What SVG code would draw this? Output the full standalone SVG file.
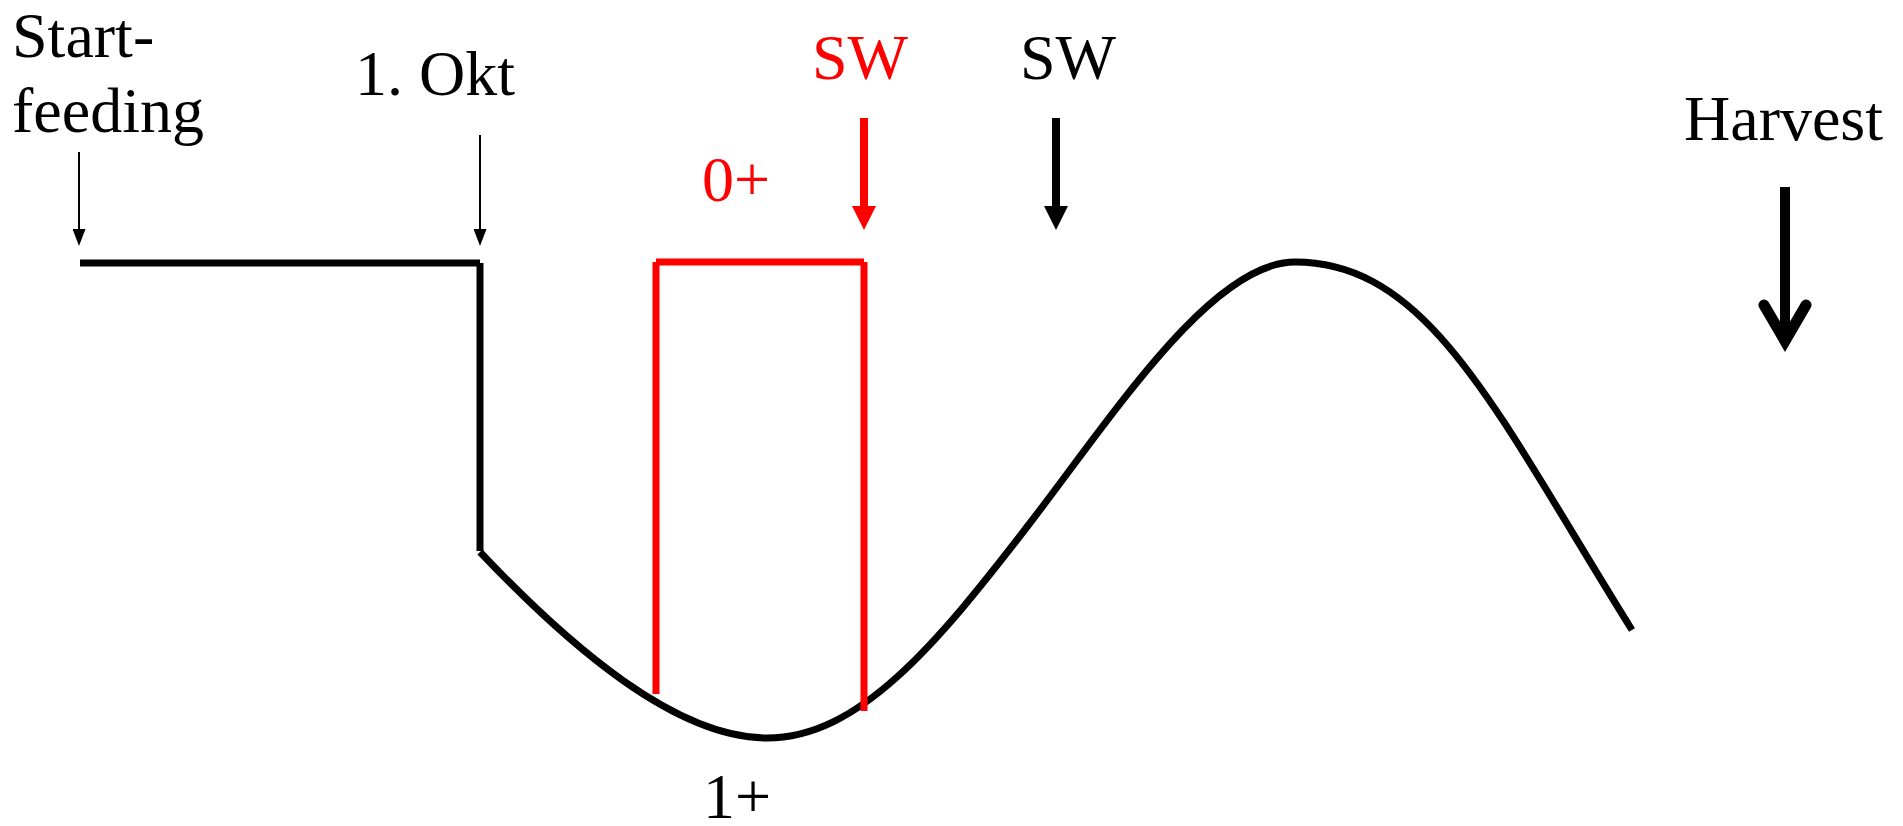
<svg xmlns="http://www.w3.org/2000/svg" width="1903" height="826" viewBox="0 0 1903 826">
<style>
  .t { font-family: 'Liberation Serif', 'Times New Roman', Times, serif; font-size: 64px; fill: #000; }
  .red { fill: #ff0000; }
  .thin { stroke: #000; stroke-width: 2; fill: none; }
  .sw { stroke-width: 8; fill: none; }
  .blk { stroke: #000; }
  .rd { stroke: #ff0000; }
  .line { stroke-width: 7; fill: none; stroke-linecap: butt; }
  .curve { stroke: #000; stroke-width: 7; fill: none; stroke-linecap: butt; }
</style>
<defs>
  <marker id="headThin" markerUnits="userSpaceOnUse" markerWidth="17" markerHeight="13" viewBox="0 0 17 13" refX="1" refY="6.5" orient="auto">
    <path d="M0,0 L17,6.5 L0,13 z" fill="#000"/>
  </marker>
  <marker id="headBlack" markerUnits="userSpaceOnUse" markerWidth="24" markerHeight="24" viewBox="0 0 24 24" refX="1" refY="12" orient="auto">
    <path d="M0,0 L24,12 L0,24 z" fill="#000"/>
  </marker>
  <marker id="headRed" markerUnits="userSpaceOnUse" markerWidth="24" markerHeight="24" viewBox="0 0 24 24" refX="1" refY="12" orient="auto">
    <path d="M0,0 L24,12 L0,24 z" fill="#ff0000"/>
  </marker>
</defs>
<rect x="0" y="0" width="1903" height="826" fill="#fff"/>

<g id="startfeeding">
  <text class="t" x="12" y="57">Start-</text>
  <text class="t" x="12" y="132">feeding</text>
  <line class="thin" x1="79" y1="152" x2="79" y2="230" marker-end="url(#headThin)"/>
</g>

<g id="okt">
  <text class="t" x="355" y="95">1. Okt</text>
  <line class="thin" x1="480" y1="135" x2="480" y2="230" marker-end="url(#headThin)"/>
</g>

<g id="sw-red">
  <text class="t red" x="812" y="79">SW</text>
  <line class="sw rd" x1="864" y1="118" x2="864" y2="207" marker-end="url(#headRed)"/>
</g>

<g id="sw-black">
  <text class="t" x="1020" y="79">SW</text>
  <line class="sw blk" x1="1056" y1="118" x2="1056" y2="207" marker-end="url(#headBlack)"/>
</g>

<g id="harvest">
  <text class="t" x="1684" y="140">Harvest</text>
  <line x1="1785" y1="187" x2="1785" y2="336" stroke="#000" stroke-width="10"/>
  <polyline points="1764,305 1785,341 1806,305" fill="none" stroke="#000" stroke-width="11" stroke-linecap="round" stroke-linejoin="miter"/>
</g>

<g id="label-0plus">
  <text class="t red" x="702" y="201">0+</text>
</g>

<g id="label-1plus">
  <text class="t" x="703" y="818">1+</text>
</g>

<g id="connectors">
  <line class="line blk" x1="80" y1="263" x2="480" y2="263"/>
  <line class="line blk" x1="480" y1="263" x2="480" y2="551"/>
  <path class="curve" d="M480,552 C570,647 676,738 767,738 C858,738 935,647 1030,523 C1113,415 1212,262 1295,262 C1430,262 1497,414 1632,630"/>
  <line class="line rd" x1="656" y1="262" x2="864" y2="262"/>
  <line class="line rd" x1="656" y1="262" x2="656" y2="694"/>
  <line class="line rd" x1="864" y1="262" x2="864" y2="711"/>
</g>
</svg>
